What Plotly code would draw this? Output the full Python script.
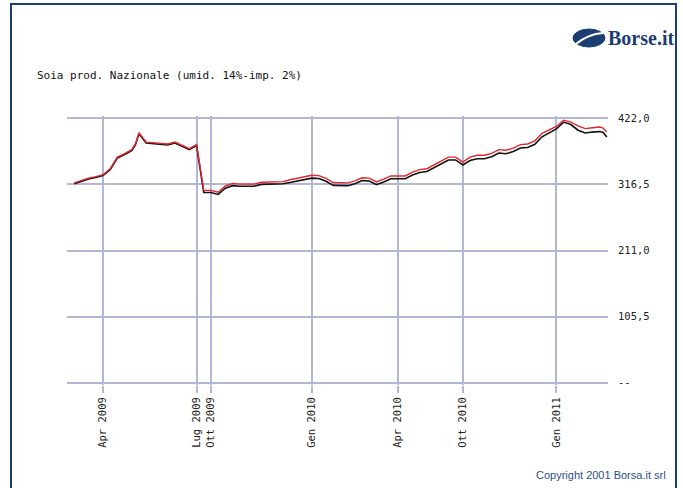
import plotly.graph_objects as go

# ---- data ----
obs = [0, 2, 4, 6, 8, 10, 12, 14, 16, 17, 18, 20, 22, 24, 26, 28, 30, 32, 34, 35,
       36, 38, 40, 42, 44, 46, 48, 50, 52, 54, 56, 58, 60, 62, 64, 66, 68, 70, 72, 74,
       76, 78, 80, 82, 84, 86, 88, 90, 92, 94, 96, 98, 100, 102, 104, 106, 108, 110, 112, 114,
       116, 118, 120, 122, 124, 126, 128, 130, 132, 134, 136, 138, 140, 142, 144, 146, 147, 148]

prezzo_max = [319, 323, 326.5, 329, 332, 341.6, 360, 365.5, 372, 381, 399, 384, 383, 382, 381, 384, 379, 373.5, 380, 345,
              307, 307, 304, 314, 318, 317, 317, 317, 320, 320.5, 320.5, 321, 324, 326, 328.5, 331, 330.5, 326, 319.5, 319,
              319, 322, 327, 326.6, 320.5, 325, 330, 330, 330, 336, 340, 341.5, 348, 354, 360, 360, 352, 360, 363, 363,
              366, 372, 371, 374.5, 380, 381, 386, 398, 404, 409, 419, 416, 410, 405.5, 407, 408, 406.5, 400]

prezzo_min = [317.5, 321.5, 325, 327.5, 330.5, 340, 358.5, 364, 370.5, 379.5, 397.5, 382.5, 381.5, 380.5, 379.5, 382.5, 377.5, 372, 378.5, 342,
              303.5, 303.5, 300.5, 310.5, 314.5, 313.5, 313.5, 313.5, 316.5, 317, 317, 317.5, 319.5, 321.5, 324, 326.5, 326, 321.5, 315, 314.5,
              314.5, 317.5, 322.5, 322, 316, 320.5, 325.5, 325.5, 325.5, 331.5, 335.5, 337, 343.5, 349.5, 355.5, 355.5, 347.5, 354.5, 357.5, 357.5,
              360.5, 366.5, 365.5, 369, 374.5, 375.5, 380.5, 392.5, 398.5, 405, 416, 412, 403, 398.5, 400, 401, 399.5, 392]

x_tick_pos = [8, 34, 38, 66, 90, 108, 134]
x_tick_labels = ["Apr 2009", "Lug 2009", "Ott 2009", "Gen 2010", "Apr 2010", "Ott 2010", "Gen 2011"]

y_tick_pos = [0, 105.5, 211, 316.5, 422]
y_tick_labels = ["--", "105,5", "211,0", "316,5", "422,0"]

title_text = "Soia prod. Nazionale (umid. 14%-imp. 2%)"

# ---- figure ----
W, H = 683, 488
ML, MR, MT, MB = 67, 75, 116, 103
PW, PH = W - ML - MR, H - MT - MB

def px(x):
    return (x - ML) / PW

def py(y):
    return (H - MB - y) / PH

GRID = "#b2b7d6"
NAVY = "#1c3d72"

fig = go.Figure()
fig.add_trace(go.Scatter(x=obs, y=prezzo_min, mode="lines",
                         line=dict(color="#111111", width=1.6), hoverinfo="skip"))
fig.add_trace(go.Scatter(x=obs, y=prezzo_max, mode="lines",
                         line=dict(color="#e3262b", width=1.4), hoverinfo="skip"))

shapes = [
    # outer frame
    dict(type="rect", xref="paper", yref="paper",
         x0=px(11), x1=px(676), y0=py(492), y1=py(4),
         line=dict(color=NAVY, width=2), fillcolor="rgba(0,0,0,0)", layer="above"),
    # logo globe
    dict(type="circle", xref="paper", yref="paper",
         x0=px(573), x1=px(605), y0=py(47), y1=py(29),
         line=dict(color=NAVY, width=1), fillcolor=NAVY, layer="above"),
    dict(type="path", xref="paper", yref="paper",
         path="M {} {} Q {} {} {} {}".format(px(576), py(44), px(588), py(34), px(603), py(33)),
         line=dict(color="white", width=2), layer="above"),
]

annotations = [
    dict(text="<b>Borse.it</b>", xref="paper", yref="paper", x=px(606), y=py(38),
         xanchor="left", yanchor="middle", showarrow=False,
         font=dict(family="Liberation Serif", size=20, color=NAVY)),
    dict(text="Copyright 2001 Borsa.it srl", xref="paper", yref="paper", x=px(668), y=py(475),
         xanchor="right", yanchor="middle", showarrow=False,
         font=dict(family="Liberation Sans", size=11, color="#2c4f85")),
]

fig.update_layout(
    width=W, height=H, template="none",
    margin=dict(l=ML, r=MR, t=MT, b=MB, pad=0),
    paper_bgcolor="white", plot_bgcolor="white",
    showlegend=False,
    title=dict(text=title_text, xref="container", yref="container",
               x=37 / W, y=1 - 75 / H, xanchor="left", yanchor="middle",
               font=dict(family="DejaVu Sans Mono", size=11, color="#111")),
    xaxis=dict(range=[-2, 148.33], tickmode="array", tickvals=x_tick_pos, ticktext=x_tick_labels,
               tickangle=-90, showgrid=True, gridcolor=GRID, gridwidth=2,
               ticks="outside", ticklen=7, tickwidth=2, tickcolor=GRID,
               zeroline=False, showline=False,
               tickfont=dict(family="DejaVu Sans Mono", size=10.5, color="#222")),
    yaxis=dict(range=[-3.67, 425.67], side="right", tickmode="array",
               tickvals=y_tick_pos, ticktext=y_tick_labels,
               showgrid=True, gridcolor=GRID, gridwidth=2, ticks="",
               ticklabelstandoff=9, zeroline=False, showline=False,
               tickfont=dict(family="DejaVu Sans Mono", size=10.5, color="#222")),
    shapes=shapes, annotations=annotations,
)

fig.write_html("out.html", config={"displayModeBar": False},
               post_script="document.body.style.margin='0';document.body.style.overflow='hidden';")
